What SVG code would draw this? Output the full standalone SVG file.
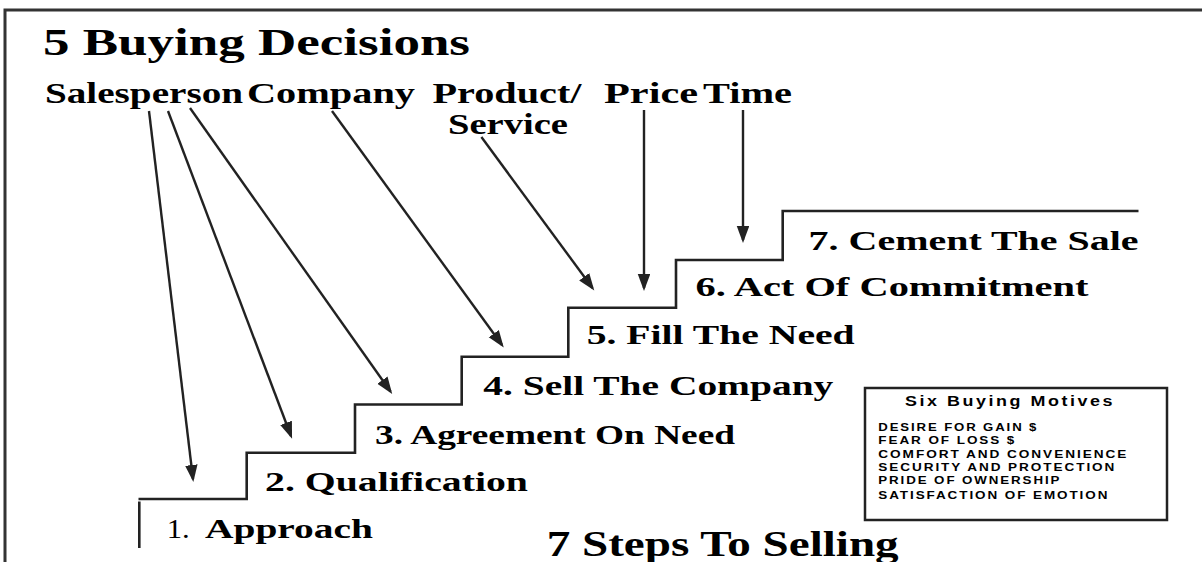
<svg xmlns="http://www.w3.org/2000/svg" width="1202" height="562" viewBox="0 0 1202 562">
  <style>
    .frame { fill: none; stroke: #333; stroke-width: 3; }
    .stair { fill: none; stroke: #222; stroke-width: 2.6; }
    .conn { fill: none; stroke: #222; stroke-width: 2.4; marker-end: url(#arrow); }
    .serif { font-family: "Liberation Serif", "Times New Roman", serif; font-weight: bold; fill: #000; }
    .title { font-size: 37px; }
    .subtitle { font-size: 35px; }
    .head { font-size: 29px; }
    .step { font-size: 27.5px; }
    .plain { font-weight: normal; }
    .sans { font-family: "Liberation Sans", Arial, sans-serif; font-weight: bold; fill: #000; }
    .motive-title { font-size: 14px; letter-spacing: 2px; }
    .motive { font-size: 10.5px; letter-spacing: 1.5px; }
    .box { fill: #fff; stroke: #222; stroke-width: 2.5; }
  </style>
  <defs>
    <marker id="arrow" markerUnits="userSpaceOnUse" markerWidth="18" markerHeight="13" refX="14" refY="6.25" orient="auto">
      <path d="M0,0 L17,6.25 L0,12.5 z" fill="#222"/>
    </marker>
  </defs>

  <rect width="1202" height="562" fill="#fff"/>

  <!-- page frame: top and left edges only -->
  <path class="frame" d="M5,562 V10 H1202"/>

  <text id="title" class="serif title" x="43" y="55" textLength="427" lengthAdjust="spacingAndGlyphs">5 Buying Decisions</text>

  <!-- buying decisions -->
  <g id="salesperson">
    <text class="serif head" x="45" y="102.5" textLength="198" lengthAdjust="spacingAndGlyphs">Salesperson</text>
  </g>
  <g id="company">
    <text class="serif head" x="247" y="102.5" textLength="168" lengthAdjust="spacingAndGlyphs">Company</text>
  </g>
  <g id="product-service">
    <text class="serif head" x="432.5" y="102.5" textLength="149" lengthAdjust="spacingAndGlyphs">Product/</text>
    <text class="serif head" x="448" y="134" textLength="120" lengthAdjust="spacingAndGlyphs">Service</text>
  </g>
  <g id="price">
    <text class="serif head" x="604" y="102.5" textLength="94" lengthAdjust="spacingAndGlyphs">Price</text>
  </g>
  <g id="time">
    <text class="serif head" x="703" y="102.5" textLength="89" lengthAdjust="spacingAndGlyphs">Time</text>
  </g>

  <!-- staircase -->
  <g id="stairs">
    <path class="stair" d="M138.5,499 H246.7 V452.7 H355 V404.5 H461.7 V356.7 H568.3 V307.7 H676 V260 H782.7 V211 H1138.5"/>
    <path class="stair" d="M139.3,501.5 V548"/>
  </g>

  <!-- selling steps -->
  <g id="step1">
    <text class="serif step plain" x="166.7" y="537.5" textLength="23" lengthAdjust="spacingAndGlyphs">1.</text>
    <text class="serif step" x="205" y="537.5" textLength="168" lengthAdjust="spacingAndGlyphs">Approach</text>
  </g>
  <g id="step2">
    <text class="serif step" x="265" y="490.5" textLength="263" lengthAdjust="spacingAndGlyphs">2. Qualification</text>
  </g>
  <g id="step3">
    <text class="serif step" x="375" y="443.5" textLength="360" lengthAdjust="spacingAndGlyphs">3. Agreement On Need</text>
  </g>
  <g id="step4">
    <text class="serif step" x="483.3" y="395" textLength="350" lengthAdjust="spacingAndGlyphs">4. Sell The Company</text>
  </g>
  <g id="step5">
    <text class="serif step" x="586.7" y="343.5" textLength="268" lengthAdjust="spacingAndGlyphs">5. Fill The Need</text>
  </g>
  <g id="step6">
    <text class="serif step" x="695.5" y="296" textLength="393" lengthAdjust="spacingAndGlyphs">6. Act Of Commitment</text>
  </g>
  <g id="step7">
    <text class="serif step" x="808.6" y="249.5" textLength="330" lengthAdjust="spacingAndGlyphs">7. Cement The Sale</text>
  </g>

  <text id="subtitle" class="serif subtitle" x="546.7" y="556" textLength="352" lengthAdjust="spacingAndGlyphs">7 Steps To Selling</text>

  <!-- buying motives panel -->
  <g id="motives">
    <rect class="box" x="865" y="388" width="302" height="132"/>
    <text class="sans motive-title" x="905" y="405.5" textLength="210" lengthAdjust="spacingAndGlyphs">Six Buying Motives</text>
    <text class="sans motive" x="878.3" y="431" textLength="160" lengthAdjust="spacingAndGlyphs">DESIRE FOR GAIN $</text>
    <text class="sans motive" x="878.3" y="444.2" textLength="138" lengthAdjust="spacingAndGlyphs">FEAR OF LOSS $</text>
    <text class="sans motive" x="878.3" y="457.5" textLength="250" lengthAdjust="spacingAndGlyphs">COMFORT AND CONVENIENCE</text>
    <text class="sans motive" x="878.3" y="470.8" textLength="238" lengthAdjust="spacingAndGlyphs">SECURITY AND PROTECTION</text>
    <text class="sans motive" x="878.3" y="484.3" textLength="183" lengthAdjust="spacingAndGlyphs">PRIDE OF OWNERSHIP</text>
    <text class="sans motive" x="878.3" y="499" textLength="231" lengthAdjust="spacingAndGlyphs">SATISFACTION OF EMOTION</text>
  </g>

  <!-- connectors: decisions to steps -->
  <g id="connectors">
    <line class="conn" x1="149" y1="111" x2="193" y2="479"/>
    <line class="conn" x1="168" y1="111" x2="291" y2="436"/>
    <line class="conn" x1="190" y1="108" x2="390.5" y2="391.5"/>
    <line class="conn" x1="332" y1="111" x2="502" y2="345"/>
    <line class="conn" x1="481.4" y1="137" x2="592.5" y2="288"/>
    <line class="conn" x1="644" y1="110" x2="644" y2="288"/>
    <line class="conn" x1="743" y1="110" x2="743" y2="240"/>
  </g>
</svg>
